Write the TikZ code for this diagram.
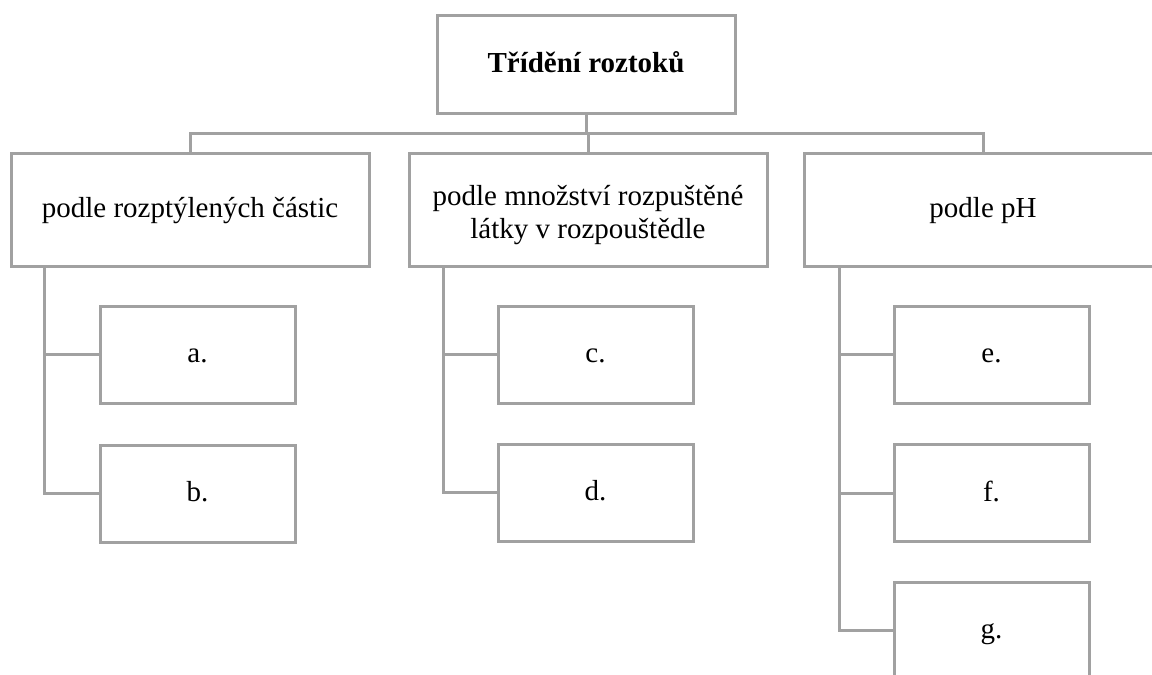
\documentclass[tikz,border=0pt]{standalone}
\usepackage{fontspec}
\setmainfont{Liberation Serif}
\begin{document}
\begin{tikzpicture}[x=1pt,y=-1pt,
  lc/.style={draw=black!37, line width=3pt},
  box/.style={lc, fill=white, inner sep=0pt, align=center,
    text height=21pt, text depth=4.5pt, font=\fontsize{29}{33}\selectfont},
  bigbox/.style={box, minimum width=358pt, minimum height=113pt},
  rootbox/.style={box, minimum width=298pt, minimum height=98pt},
  smallbox/.style={box, minimum width=195pt, minimum height=97pt},
  conn/.style={lc, line cap=rect}
]
\path[use as bounding box] (0,0) rectangle (1152,675);
\clip (0,0) rectangle (1152,675);
\fill[white] (0,0) rectangle (1152,675);

\node[rootbox] (root) at (586,64) {\textbf{Třídění roztoků}};
\node[bigbox] (b1) at (190,209.5) {podle rozptýlených částic};
\node[bigbox] (b2) at (588,209.5) {\raisebox{-4pt}{\begin{tabular}{@{}c@{}}podle množství rozpuštěné\\látky v rozpouštědle\end{tabular}}};
\node[bigbox] (b3) at (983,209.5) {podle pH};

\node[smallbox] (a) at (197.5,354.5) {a.};
\node[smallbox] (b) at (197.5,493.5) {b.};
\node[smallbox] (c) at (595.5,354.5) {c.};
\node[smallbox] (d) at (595.5,492.5) {d.};
\node[smallbox] (e) at (991.5,354.5) {e.};
\node[smallbox] (f) at (991.5,493) {f.};
\node[smallbox] (g) at (991.5,630.5) {g.};

\coordinate (bus) at (586,133);
\draw[conn] (root.south) -- (bus);
\draw[conn] (b1.north) |- (bus) -| (b3.north);
\draw[conn] (bus) -| (b2.north);

\coordinate (s1) at ([xshift=35pt]b1.south west);
\coordinate (s2) at ([xshift=36pt]b2.south west);
\coordinate (s3) at ([xshift=37pt]b3.south west);
\draw[conn] (s1) |- (a.west);
\draw[conn] (s1) |- (b.west);
\draw[conn] (s2) |- (c.west);
\draw[conn] (s2) |- (d.west);
\draw[conn] (s3) |- (e.west);
\draw[conn] (s3) |- (f.west);
\draw[conn] (s3) |- (g.west);
\end{tikzpicture}
\end{document}
